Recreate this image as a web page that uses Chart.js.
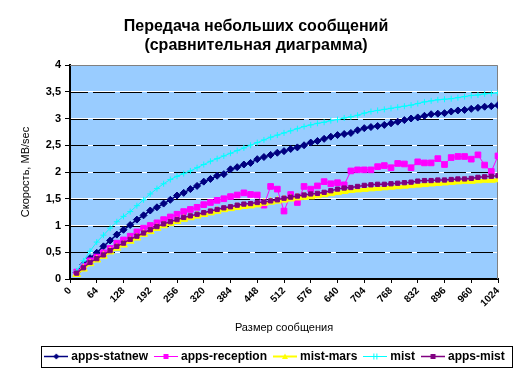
<!DOCTYPE html>
<html><head><meta charset="utf-8">
<script src="https://cdn.jsdelivr.net/npm/chart.js@4"></script>
<style>html,body{margin:0;padding:0;background:#fff}canvas{display:block}</style>
</head><body>
<canvas id="c" width="513" height="376"></canvas>
<script>
const titleLines = ['Передача небольших сообщений', '(сравнительная диаграмма)'];
const xTitle = 'Размер сообщения';
const yTitle = 'Скорость, MB/sec';
const seriesNames = ['apps-statnew', 'apps-reception', 'mist-mars', 'mist', 'apps-mist'];

const sizes = [16,32,48,64,80,96,112,128,144,160,176,192,208,224,240,256,
  272,288,304,320,336,352,368,384,400,416,432,448,464,480,496,512,
  528,544,560,576,592,608,624,640,656,672,688,704,720,736,752,768,
  784,800,816,832,848,864,880,896,912,928,944,960,976,992,1008,1024];

const appsStatnew = [0.12,0.27,0.39,0.49,0.61,0.72,0.83,0.92,1.01,1.11,1.19,1.28,1.34,1.41,1.48,1.56,
  1.61,1.68,1.74,1.82,1.87,1.93,1.96,2.05,2.09,2.14,2.17,2.24,2.28,2.32,2.36,2.39,
  2.43,2.46,2.50,2.55,2.58,2.62,2.66,2.69,2.71,2.73,2.78,2.82,2.84,2.86,2.88,2.91,
  2.94,2.97,3.00,3.02,3.05,3.08,3.09,3.10,3.13,3.15,3.16,3.18,3.20,3.22,3.23,3.25];

const appsReception = [0.13,0.24,0.34,0.41,0.49,0.57,0.67,0.73,0.80,0.88,0.95,1.00,1.05,1.11,1.16,1.21,
  1.26,1.30,1.34,1.39,1.43,1.47,1.50,1.54,1.57,1.61,1.58,1.57,1.38,1.73,1.68,1.27,
  1.58,1.43,1.73,1.68,1.74,1.82,1.78,1.80,1.76,2.02,2.04,2.04,2.04,2.10,2.12,2.08,
  2.16,2.15,2.08,2.19,2.17,2.17,2.25,2.14,2.27,2.29,2.29,2.24,2.32,2.13,2.01,2.30];

const mistMars = [0.09,0.19,0.29,0.36,0.43,0.51,0.58,0.64,0.71,0.77,0.84,0.89,0.95,1.00,1.04,1.08,
  1.12,1.15,1.18,1.21,1.24,1.27,1.30,1.32,1.34,1.36,1.37,1.39,1.42,1.44,1.46,1.48,
  1.50,1.52,1.53,1.54,1.56,1.58,1.60,1.62,1.64,1.66,1.67,1.68,1.69,1.70,1.71,1.72,
  1.73,1.74,1.75,1.76,1.77,1.78,1.79,1.80,1.81,1.82,1.83,1.83,1.84,1.85,1.85,1.86];

const mist = [0.15,0.34,0.52,0.69,0.82,0.95,1.07,1.17,1.26,1.37,1.48,1.59,1.69,1.78,1.86,1.92,
  1.97,2.02,2.08,2.14,2.20,2.25,2.30,2.35,2.40,2.45,2.50,2.55,2.60,2.65,2.69,2.73,
  2.77,2.81,2.85,2.88,2.91,2.93,2.96,2.98,3.01,3.03,3.06,3.10,3.13,3.15,3.17,3.19,
  3.21,3.23,3.25,3.28,3.31,3.33,3.35,3.36,3.37,3.39,3.41,3.43,3.44,3.46,3.47,3.48];

const appsMist = [0.11,0.21,0.31,0.38,0.45,0.53,0.61,0.67,0.74,0.80,0.86,0.92,0.98,1.03,1.07,1.11,
  1.15,1.18,1.21,1.24,1.27,1.30,1.33,1.35,1.38,1.40,1.41,1.43,1.44,1.46,1.48,1.51,
  1.53,1.55,1.57,1.59,1.60,1.62,1.65,1.68,1.70,1.71,1.73,1.75,1.76,1.77,1.77,1.78,
  1.79,1.80,1.81,1.83,1.84,1.84,1.85,1.85,1.86,1.87,1.87,1.88,1.90,1.91,1.92,1.93];

const xMin = 0, xMax = 1024, xStep = 64;
const yMin = 0, yMax = 4, yStep = 0.5;

const FONT = "'Liberation Sans', Arial, sans-serif";
const seriesValues = [appsStatnew, appsReception, mistMars, mist, appsMist];
const styles = [
  {color:'#000080', width:1.5, point:'rectRot', r:3.5, order:5},
  {color:'#FF00FF', width:1, point:'rect', r:4, order:4},
  {color:'#FFFF00', width:2.5, point:'triangle', r:4.5, order:3},
  {color:'#00FFFF', width:1, point:'cross', r:3, order:2},
  {color:'#800080', width:1.5, point:'rect', r:3, order:1}
];

function toPoints(vals){ return sizes.map((s,i)=>({x:s, y:vals[i]})); }

function drawMarker(ctx, style, x, y, r){
  ctx.beginPath();
  if (style === 'rectRot'){ ctx.moveTo(x, y-r); ctx.lineTo(x+r, y); ctx.lineTo(x, y+r); ctx.lineTo(x-r, y); ctx.closePath(); ctx.fill(); }
  else if (style === 'rect'){ ctx.rect(x-r, y-r, 2*r, 2*r); ctx.fill(); }
  else if (style === 'triangle'){ ctx.moveTo(x, y-r); ctx.lineTo(x+r, y+r*0.8); ctx.lineTo(x-r, y+r*0.8); ctx.closePath(); ctx.fill(); }
  else if (style === 'cross'){ ctx.moveTo(x-1.5, y-r); ctx.lineTo(x-1.5, y+r); ctx.moveTo(x+1.5, y-r); ctx.lineTo(x+1.5, y+r); ctx.lineWidth=1; ctx.stroke(); }
}

const legendIcons = styles.map(st => {
  const cv = document.createElement('canvas');
  cv.width = 24; cv.height = 9;
  const c = cv.getContext('2d');
  c.strokeStyle = st.color; c.fillStyle = st.color;
  c.lineWidth = Math.min(st.width, 2);
  c.beginPath(); c.moveTo(0, 4.5); c.lineTo(24, 4.5); c.stroke();
  drawMarker(c, st.point, 12, 4.5, st.point === 'rect' ? 2.5 : 3);
  return cv;
});

const LEG_SHIFT = 27;
const TITLE_SHIFT = 7;
const decor = {
  id: 'decor',
  beforeDraw(chart){
    const {ctx, chartArea:a} = chart;
    ctx.save();
    ctx.fillStyle = '#fff'; ctx.fillRect(0, 0, chart.width, chart.height);
    ctx.fillStyle = '#99CCFF'; ctx.fillRect(a.left, a.top, a.right - a.left, a.bottom - a.top);
    ctx.restore();
  },
  afterLayout(chart){
    if (chart.legend){ chart.legend.left += LEG_SHIFT; chart.legend.right += LEG_SHIFT; }
    if (chart.titleBlock){ chart.titleBlock.left += TITLE_SHIFT; chart.titleBlock.right += TITLE_SHIFT; }
  },
  beforeDatasetsDraw(chart){
    const {ctx, chartArea:a} = chart;
    const y = chart.scales.y;
    ctx.save();
    ctx.strokeStyle = '#000'; ctx.lineWidth = 1;
    ctx.setLineDash([22, 5]); ctx.lineDashOffset = 4;
    y.ticks.forEach(t => {
      if (t.value <= yMin || t.value >= yMax) return;
      const py = Math.round(y.getPixelForValue(t.value)) + 0.5;
      ctx.beginPath(); ctx.moveTo(a.left, py); ctx.lineTo(a.right, py); ctx.stroke();
    });
    ctx.setLineDash([]);
    ctx.strokeStyle = '#808080';
    ctx.beginPath();
    ctx.moveTo(a.left, Math.round(a.top) + 0.5);
    ctx.lineTo(Math.round(a.right) - 0.5, Math.round(a.top) + 0.5);
    ctx.lineTo(Math.round(a.right) - 0.5, a.bottom);
    ctx.stroke();
    ctx.restore();
  },
  afterDraw(chart){
    const lg = chart.legend;
    if (!lg || !lg.lineWidths) return;
    const p = lg.options.labels.padding;
    const W = lg.lineWidths[0];
    const xs = (lg.left + p + lg.right - W) / 2;
    const fs = lg.options.labels.font.size;
    const cy = lg.top + p + fs / 2;
    const ctx = chart.ctx;
    ctx.save();
    ctx.strokeStyle = '#000'; ctx.lineWidth = 1;
    const x0 = Math.round(xs - 6) + 0.5, x1 = Math.round(xs + W - p + 7) + 0.5;
    const y0 = Math.round(cy - 10.5) + 0.5, y1 = Math.round(cy + 10.5) + 0.5;
    ctx.strokeRect(x0, y0, x1 - x0, y1 - y0);
    ctx.restore();
  }
};

new Chart(document.getElementById('c'), {
  type: 'line',
  data: {
    datasets: seriesNames.map((name, i) => ({
      label: name,
      data: toPoints(seriesValues[i]),
      borderColor: styles[i].color,
      backgroundColor: styles[i].color,
      borderWidth: styles[i].width,
      pointStyle: styles[i].point,
      pointRadius: styles[i].r,
      pointBorderWidth: 1,
      pointBorderColor: styles[i].color,
      pointBackgroundColor: styles[i].color,
      tension: 0,
      fill: false,
      order: styles[i].order
    }))
  },
  options: {
    responsive: false,
    devicePixelRatio: 1,
    animation: false,
    layout: { padding: { left: 0, right: 15, top: 0, bottom: 3.5 } },
    plugins: {
      title: {
        display: true, text: titleLines, color: '#000',
        font: { family: FONT, size: 16, weight: 'bold', lineHeight: 1.1875 },
        padding: { top: 17.5, bottom: 9.5 }
      },
      legend: {
        position: 'bottom',
        labels: {
          usePointStyle: true, pointStyleWidth: 18, padding: 9, color: '#000',
          font: { family: FONT, size: 12, weight: 'bold' },
          sort: (a, b) => a.datasetIndex - b.datasetIndex,
          generateLabels(chart){
            const items = Chart.defaults.plugins.legend.labels.generateLabels(chart);
            items.forEach(it => { it.pointStyle = legendIcons[it.datasetIndex]; });
            return items;
          }
        }
      },
      tooltip: { enabled: false }
    },
    scales: {
      x: {
        type: 'linear', min: xMin, max: xMax,
        afterFit(s){ s.height = 62.5; },
        border: { color: '#000', width: 2 },
        grid: { drawOnChartArea: false, drawTicks: true, tickLength: 4, color: '#000', tickColor: '#000' },
        ticks: {
          stepSize: xStep, autoSkip: false, maxRotation: 45, minRotation: 45, color: '#000', padding: 2,
          font: { family: FONT, size: 10, weight: 'bold' },
          callback: v => String(v)
        },
        title: { display: true, text: xTitle, color: '#000', font: { family: FONT, size: 11 }, padding: { top: 0, bottom: 7 } }
      },
      y: {
        min: yMin, max: yMax,
        afterFit(s){ s.width = 70; },
        border: { color: '#000', width: 2 },
        grid: {
          color: ctx => (ctx.tick && (ctx.tick.value <= yMin || ctx.tick.value >= yMax)) ? 'rgba(0,0,0,0)' : '#fff',
          tickColor: '#000', tickLength: 5, drawTicks: true
        },
        ticks: {
          stepSize: yStep, color: '#000', padding: 4,
          font: { family: FONT, size: 11, weight: 'bold' },
          callback: v => String(v).replace('.', ',')
        },
        title: { display: true, text: yTitle, color: '#000', font: { family: FONT, size: 11 }, padding: { top: 19, bottom: 0 } }
      }
    }
  },
  plugins: [decor]
});
</script>
</body></html>
